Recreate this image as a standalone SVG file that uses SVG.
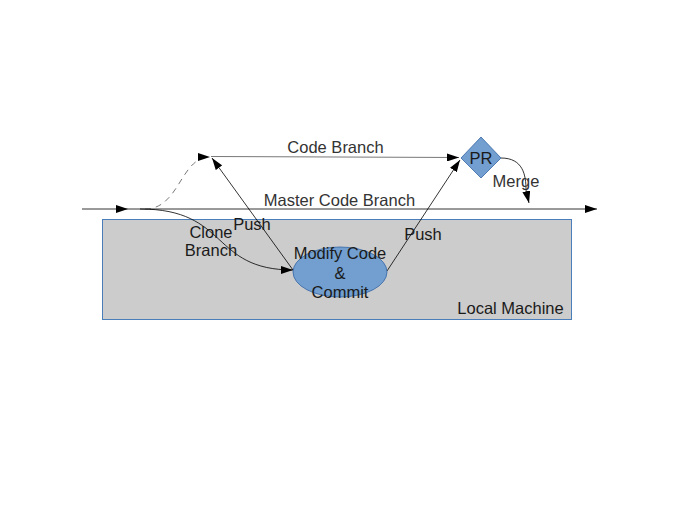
<svg xmlns="http://www.w3.org/2000/svg" width="684" height="529" viewBox="0 0 684 529">
<defs>
<marker id="ah" markerWidth="12" markerHeight="8" refX="12" refY="4" orient="auto" markerUnits="userSpaceOnUse">
<path d="M0,0 L12,4 L0,8 Z" fill="#000"/>
</marker>
<style>
.ln{fill:none;stroke:#000;stroke-width:0.8}
.lg{fill:none;stroke:#555;stroke-width:0.8}
.t{font-family:"Liberation Sans",Arial,sans-serif;font-size:16.5px;text-anchor:middle}
.dk{fill:#1a1a1a}
.gr{fill:#333}
</style>
</defs>
<rect width="684" height="529" fill="#fff"/>
<g id="local-machine">
<rect x="102.5" y="219.5" width="469" height="100" fill="#cccccc" stroke="#4a7ebb" stroke-width="1"/>
<text class="t dk" x="510.5" y="314">Local Machine</text>
</g>
<g id="connectors">
<line class="ln" x1="82" y1="209" x2="128" y2="209" marker-end="url(#ah)"/>
<line class="ln" x1="128" y1="209" x2="597" y2="209" marker-end="url(#ah)"/>
<path class="lg" d="M145,209 C180,209 180,157 210,157" stroke-dasharray="6,5" marker-end="url(#ah)"/>
<line class="lg" x1="211" y1="156.5" x2="459" y2="157.5" marker-end="url(#ah)"/>
<path class="ln" d="M140,209 C230,209 210,270 293,270" marker-end="url(#ah)"/>
<line class="ln" x1="293" y1="270" x2="212" y2="158" marker-end="url(#ah)"/>
<line class="ln" x1="387" y1="271" x2="460" y2="160" marker-end="url(#ah)"/>
<path class="ln" d="M501,158 C523,158 526,175 526,190 L529,203" marker-end="url(#ah)"/>
<text class="t gr" x="335.5" y="153">Code Branch</text>
<text class="t gr" x="339.5" y="206">Master Code Branch</text>
<text class="t gr" x="516" y="187">Merge</text>
<text class="t dk" x="252" y="230">Push</text>
<text class="t dk" x="211" y="238">Clone</text>
<text class="t dk" x="211" y="256">Branch</text>
<text class="t dk" x="423" y="240">Push</text>
</g>
<g id="modify-commit">
<ellipse cx="340" cy="272" rx="47" ry="25" fill="#729fcf" stroke="#3465a4" stroke-width="0.8"/>
<text class="t dk" x="340" y="259">Modify Code</text>
<text class="t dk" x="340" y="279">&amp;</text>
<text class="t dk" x="340" y="298">Commit</text>
</g>
<g id="pr">
<polygon points="481,137 501,158 481,178 461,158" fill="#729fcf" stroke="#3465a4" stroke-width="0.8"/>
<text class="t dk" x="481" y="164">PR</text>
</g>
</svg>
